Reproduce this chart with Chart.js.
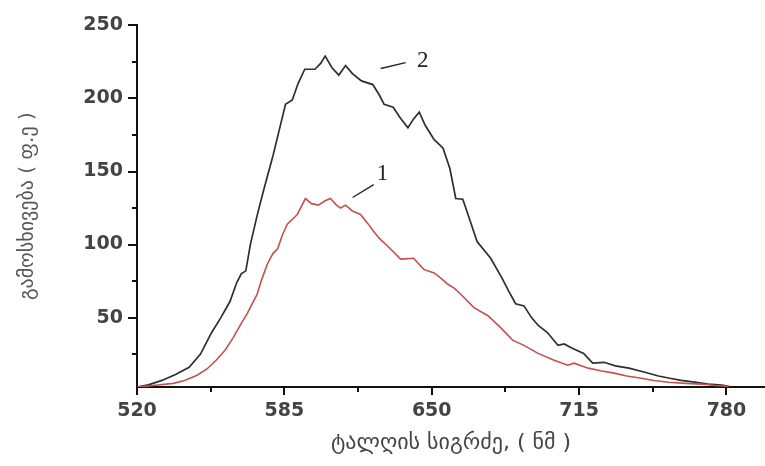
<!DOCTYPE html>
<html>
<head>
<meta charset="utf-8">
<script src="https://cdn.jsdelivr.net/npm/chart.js@4/dist/chart.umd.min.js"></script>
<style>
  html, body { margin: 0; padding: 0; background: #ffffff; }
  #wrap { width: 765px; height: 466px; position: relative; }
</style>
</head>
<body>
<div id="wrap"><canvas id="c" width="765" height="466"></canvas></div>
<script>
// ---- Data ----
// Curve 1 (red)
const wl1 = [520, 527, 536, 541, 546.5, 551, 555, 559, 562.5, 566, 568.6, 573, 575, 577.5, 580, 582, 584, 586.3, 590.7, 594.3, 597, 600, 603, 605.3, 608, 609.8, 612, 615, 618.6, 621.5, 624.4, 627, 630.5, 636.3, 642, 646.5, 651, 654, 657, 660, 662.8, 668.6, 674.8, 680.5, 685.8, 690.7, 696.9, 704, 710, 712.8, 719, 725, 730.5, 736, 742.4, 748, 754.4, 762, 769, 775, 781];
const int1 = [2.5, 3.5, 5, 7, 10.6, 15, 21, 28, 36.5, 46, 52.7, 66, 76, 86.7, 94, 97, 106, 114, 120.6, 131.5, 128, 127, 130, 131.5, 127, 125, 127, 123, 120.6, 115, 109, 104, 99, 90, 90.6, 83, 80.6, 77, 73, 70, 66, 56.8, 51.3, 43, 34.4, 31, 25.5, 20.8, 17.4, 18.8, 15.4, 13.5, 12, 10, 8.5, 7, 5.8, 5, 4.5, 3.5, 3];
// Curve 2 (black)
const wl2 = [520, 525, 531, 537, 543, 548, 553, 557, 561, 564, 566, 568, 570, 573, 576, 580, 583, 585.5, 588.5, 591, 594, 598.5, 601, 603, 606, 609, 612, 615, 619, 624, 627, 629, 633, 636, 639.5, 642, 644.5, 647, 651, 655, 658, 660.6, 663.7, 667, 670, 676, 681, 684, 687, 690.7, 694, 697, 701, 705.7, 708.4, 712, 717, 721, 726, 731, 737, 744, 750, 755, 760, 766, 772, 778, 781];
const int2 = [2.5, 4, 7, 11, 16, 25, 40, 50, 61, 74, 80, 82, 100, 120, 138, 161, 180, 196, 199, 210, 220, 220, 224, 229, 221, 216, 222.5, 217, 212, 209.5, 202, 196, 194, 187, 180, 186, 190.6, 182, 172, 166, 152, 131.5, 131, 116, 102, 90.6, 77, 68, 59.5, 58, 50, 44.6, 39.8, 31, 32, 29, 25.5, 18.8, 19.4, 17, 15.4, 12.6, 10, 8.5, 7, 5.8, 4.5, 3.8, 3];

// Tick values
const xMajorTicks = [520, 585, 650, 715, 780];
const xMinorTicks = [552.5, 617.5, 682.5, 747.5];
const yMajorTicks = [50, 100, 150, 200, 250];
const yMinorTicks = [25, 75, 125, 175, 225];

// Texts
const xTitle = 'ტალღის სიგრძე, ( ნმ )';
const yTitle = 'გამოსხივება ( ფ.ე )';
const seriesNames = ['1', '2'];

// Curve labels (anchored in data units): label point, leader line start/end
const curveLabels = [
  { text: '1', at: [628.3, 148.5], from: [615.1, 132.2], to: [624.4, 141] },
  { text: '2', at: [646, 225.5], from: [627.5, 220.5], to: [638.5, 224.6] }
];

// ---- Build chart ----
const toPoints = (xs, ys) => xs.map((x, i) => ({ x: x, y: ys[i] }));

const tickMarks = {
  id: 'tickMarks',
  afterDraw(chart) {
    const ctx = chart.ctx;
    const xs = chart.scales.x, ys = chart.scales.y;
    const area = chart.chartArea;
    ctx.save();
    ctx.strokeStyle = '#111';
    ctx.lineWidth = 2;
    ctx.beginPath();
    xMajorTicks.forEach(v => { const p = Math.round(xs.getPixelForValue(v)); ctx.moveTo(p, area.bottom); ctx.lineTo(p, area.bottom + 8); });
    xMinorTicks.forEach(v => { const p = Math.round(xs.getPixelForValue(v)); ctx.moveTo(p, area.bottom); ctx.lineTo(p, area.bottom + 5); });
    yMajorTicks.forEach(v => { const p = Math.round(ys.getPixelForValue(v)); ctx.moveTo(area.left, p); ctx.lineTo(area.left - 9, p); });
    yMinorTicks.forEach(v => { const p = Math.round(ys.getPixelForValue(v)); ctx.moveTo(area.left, p); ctx.lineTo(area.left - 5, p); });
    ctx.stroke();

    // curve labels
    ctx.strokeStyle = '#222';
    ctx.lineWidth = 1.3;
    ctx.fillStyle = '#222';
    ctx.font = '23px "Liberation Serif", "DejaVu Serif", serif';
    ctx.textAlign = 'center';
    ctx.textBaseline = 'middle';
    curveLabels.forEach(l => {
      ctx.beginPath();
      ctx.moveTo(xs.getPixelForValue(l.from[0]), ys.getPixelForValue(l.from[1]));
      ctx.lineTo(xs.getPixelForValue(l.to[0]), ys.getPixelForValue(l.to[1]));
      ctx.stroke();
      ctx.fillText(l.text, xs.getPixelForValue(l.at[0]), ys.getPixelForValue(l.at[1]));
    });
    ctx.restore();
  }
};

new Chart(document.getElementById('c'), {
  type: 'line',
  data: {
    datasets: [
      {
        label: seriesNames[0],
        data: toPoints(wl1, int1),
        borderColor: '#c4504f',
        borderWidth: 1.6,
        pointRadius: 0,
        tension: 0,
        fill: false
      },
      {
        label: seriesNames[1],
        data: toPoints(wl2, int2),
        borderColor: '#2c2f2c',
        borderWidth: 1.7,
        pointRadius: 0,
        tension: 0,
        fill: false
      }
    ]
  },
  options: {
    responsive: false,
    animation: false,
    layout: { padding: { top: 22, right: 0, bottom: 0, left: 0 } },
    plugins: {
      legend: { display: false },
      tooltip: { enabled: false }
    },
    scales: {
      x: {
        type: 'linear',
        min: 520,
        max: 797,
        afterBuildTicks: s => { s.ticks = xMajorTicks.map(v => ({ value: v })); },
        afterFit: s => { s.height = 79; },
        grid: { drawOnChartArea: false, drawTicks: false },
        border: { display: true, color: '#111', width: 2 },
        ticks: {
          padding: 13,
          color: '#444',
          font: { family: 'DejaVu Sans', size: 19, weight: 'bold' },
          maxRotation: 0,
          callback: v => String(v)
        },
        title: {
          display: true,
          text: xTitle,
          color: '#444',
          font: { family: 'DejaVu Sans', size: 22 },
          padding: { top: 0, bottom: 10 }
        }
      },
      y: {
        type: 'linear',
        min: 2.5,
        max: 250,
        afterBuildTicks: s => { s.ticks = yMajorTicks.map(v => ({ value: v })); },
        afterFit: s => { s.width = 137; },
        grid: { drawOnChartArea: false, drawTicks: false },
        border: { display: true, color: '#111', width: 2 },
        ticks: {
          padding: 14,
          color: '#444',
          font: { family: 'DejaVu Sans', size: 19, weight: 'bold' },
          callback: v => String(v)
        },
        title: {
          display: true,
          text: yTitle,
          color: '#555',
          font: { family: 'DejaVu Sans', size: 20 },
          padding: { top: 16, bottom: 0 }
        }
      }
    }
  },
  plugins: [tickMarks]
});
</script>
</body>
</html>
